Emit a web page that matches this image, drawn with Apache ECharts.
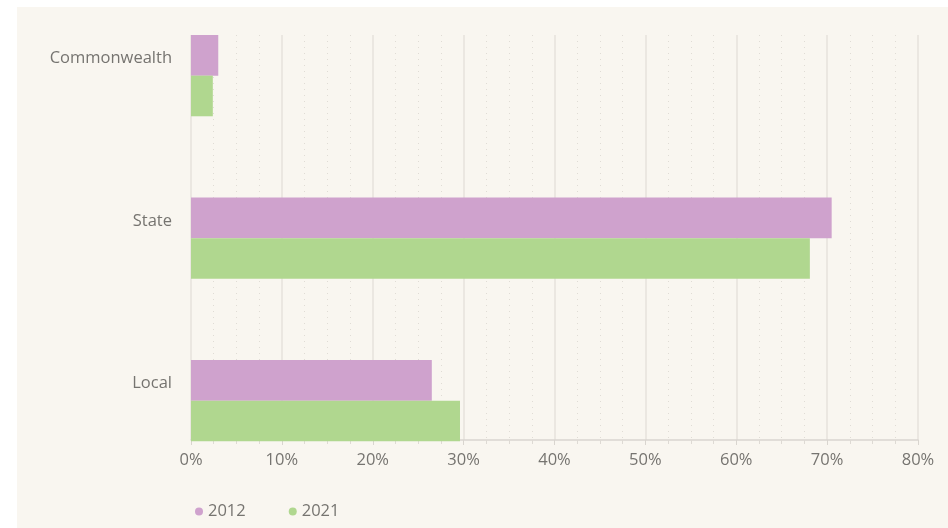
<!DOCTYPE html>
<html>
<head>
<meta charset="utf-8">
<script src="https://cdn.jsdelivr.net/npm/echarts@6/dist/echarts.min.js"></script>
<style>
  html, body { margin: 0; padding: 0; background: #ffffff; overflow: hidden; }
  /* shifted up 20px so the bar grid can start above the visible top */
  #chart-container { width: 948px; height: 548px; margin-top: -20px; }
</style>
</head>
<body>
<div id="chart-container"></div>
<script>
const categories = ['Commonwealth', 'State', 'Local'];
const years = ['2012', '2021'];
const values2012 = [3.0, 70.5, 26.5];
const values2021 = [2.4, 68.1, 29.6];

const textColor = '#767470';
const fontFamily = '"Open Sans", "Noto Sans", sans-serif';
const shift = 20;

const myChart = echarts.init(document.getElementById('chart-container'));

const option = {
  backgroundColor: '#ffffff',
  textStyle: { fontFamily: fontFamily },
  graphic: [{
    type: 'rect',
    z: -10,
    silent: true,
    shape: { x: 17, y: 7 + shift, width: 931, height: 521 },
    style: { fill: '#f9f6f0' }
  }],
  legend: {
    data: years,
    left: 190,
    top: 498 + shift,
    icon: 'circle',
    itemWidth: 8,
    itemHeight: 8,
    itemGap: 43,
    textStyle: { color: textColor, fontSize: 16.5, fontFamily: fontFamily }
  },
  grid: [
    // axis + gridlines
    { left: 191, top: 35 + shift, width: 727, height: 405 },
    // bars (bands extend beyond the axis area)
    { left: 191, top: -5.6 + shift, width: 727, height: 487.5 }
  ],
  xAxis: [{
    gridIndex: 0,
    type: 'value',
    min: 0,
    max: 80,
    interval: 10,
    axisLine: { show: true, lineStyle: { color: '#d9d5cf', width: 1.5 } },
    axisTick: { show: true, length: 5, lineStyle: { color: '#d9d5cf' } },
    minorTick: { show: true, splitNumber: 4, length: 4, lineStyle: { color: '#dedad4' } },
    splitLine: { show: true, lineStyle: { color: '#e6e2dc', width: 1.5 } },
    minorSplitLine: { show: true, lineStyle: { color: '#e0dcd5', type: [1, 5] } },
    axisLabel: {
      color: textColor,
      fontSize: 16.5,
      margin: 12,
      formatter: v => v + '%'
    }
  }, {
    gridIndex: 1,
    type: 'value',
    min: 0,
    max: 80,
    show: false
  }],
  yAxis: [{
    gridIndex: 0,
    type: 'category',
    data: categories,
    show: false
  }, {
    gridIndex: 1,
    type: 'category',
    data: categories,
    inverse: true,
    axisLine: { show: false },
    axisTick: { show: false },
    splitLine: { show: false },
    axisLabel: {
      color: textColor,
      fontSize: 16.5,
      margin: 19,
      lineHeight: 34,
      // empty second line lifts the label to the upper bar
      formatter: v => v + '\n '
    }
  }],
  series: [{
    name: years[0],
    type: 'bar',
    xAxisIndex: 1,
    yAxisIndex: 1,
    data: values2012,
    barGap: 0,
    barCategoryGap: '50%',
    itemStyle: { color: '#cfa2cd' }
  }, {
    name: years[1],
    type: 'bar',
    xAxisIndex: 1,
    yAxisIndex: 1,
    data: values2021,
    barGap: 0,
    barCategoryGap: '50%',
    itemStyle: { color: '#b0d78f' }
  }]
};

myChart.setOption(option);
</script>
</body>
</html>
